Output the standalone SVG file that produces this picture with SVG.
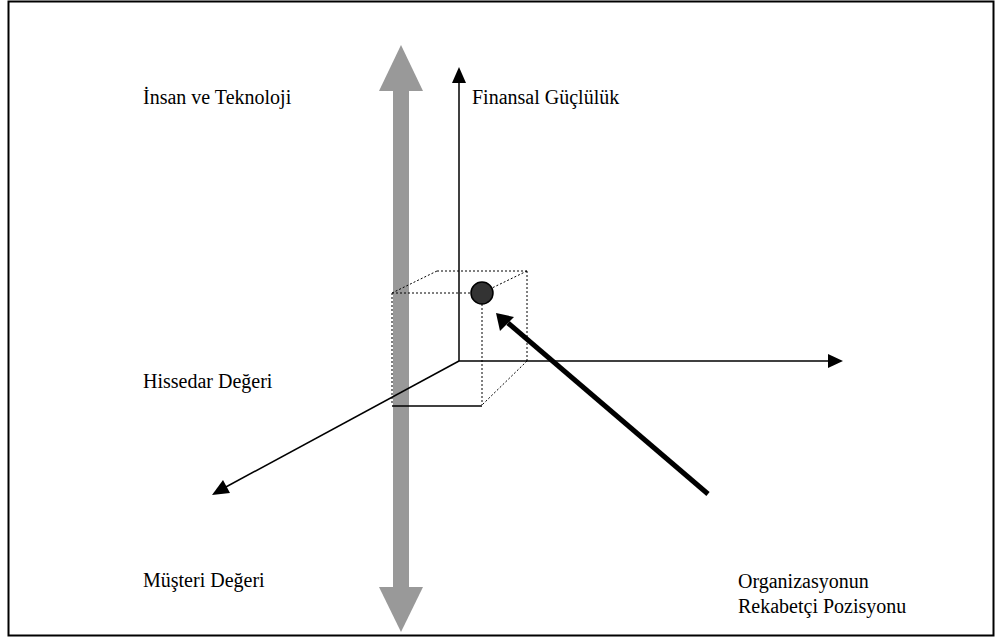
<svg xmlns="http://www.w3.org/2000/svg" width="995" height="638" viewBox="0 0 995 638">
  <style>
    .lbl { font-family: "Liberation Serif", "Times New Roman", serif; font-size: 20px; fill: #000; }
    .axis { stroke: #000; stroke-width: 1.5; fill: none; }
    .dot { stroke: #000; stroke-width: 1; stroke-dasharray: 2 2; fill: none; }
    .head { fill: #000; }
  </style>
  <rect x="0" y="0" width="995" height="638" fill="#fff"/>
  <!-- frame -->
  <rect x="8.5" y="1.5" width="985" height="634" fill="none" stroke="#000" stroke-width="2"/>

  <!-- wide grey double arrow -->
  <g id="grey-axis" fill="#999">
    <rect x="393" y="90" width="16" height="498"/>
    <polygon points="401,45 423,91 379,91"/>
    <polygon points="401,632 423,587 379,587"/>
  </g>

  <g id="connectors">
    <!-- vertical axis -->
    <line class="axis" x1="459" y1="361" x2="459" y2="80"/>
    <polygon class="head" points="459,67 466,83 452,83"/>
    <!-- horizontal axis -->
    <line class="axis" x1="459" y1="361" x2="830" y2="361"/>
    <polygon class="head" points="843,361 828,354 828,368"/>
    <!-- diagonal axis -->
    <line class="axis" x1="459" y1="361" x2="224" y2="488"/>
    <polygon class="head" points="212,495 223,480 230,493"/>
    <!-- thick pointer -->
    <line x1="708" y1="494" x2="508" y2="323" stroke="#000" stroke-width="5"/>
    <polygon class="head" points="496,313 514,317 500,331"/>
  </g>

  <!-- position cube -->
  <g id="cube">
    <line class="dot" x1="392" y1="293" x2="471" y2="293"/>
    <line class="dot" x1="392" y1="293" x2="437" y2="271"/>
    <line class="dot" x1="437" y1="271" x2="527" y2="271"/>
    <line class="dot" x1="527" y1="271" x2="492" y2="288"/>
    <line class="dot" x1="392" y1="293" x2="392" y2="405"/>
    <line class="dot" x1="482" y1="304" x2="482" y2="405"/>
    <line class="dot" x1="527" y1="271" x2="527" y2="361"/>
    <line class="dot" x1="527" y1="361" x2="482" y2="405"/>
    <line x1="392" y1="406" x2="482" y2="406" stroke="#000" stroke-width="1.5"/>
    <circle cx="482" cy="293" r="11" fill="#333" stroke="#000" stroke-width="1.5"/>
  </g>

  <g id="label-insan"><text class="lbl" x="143" y="104">İnsan ve Teknoloji</text></g>
  <g id="label-finansal"><text class="lbl" x="472" y="104">Finansal Güçlülük</text></g>
  <g id="label-hissedar"><text class="lbl" x="143" y="388">Hissedar Değeri</text></g>
  <g id="label-musteri"><text class="lbl" x="143" y="587">Müşteri Değeri</text></g>
  <g id="label-pozisyon">
    <text class="lbl" x="738" y="588">Organizasyonun</text>
    <text class="lbl" x="738" y="613">Rekabetçi Pozisyonu</text>
  </g>
</svg>
